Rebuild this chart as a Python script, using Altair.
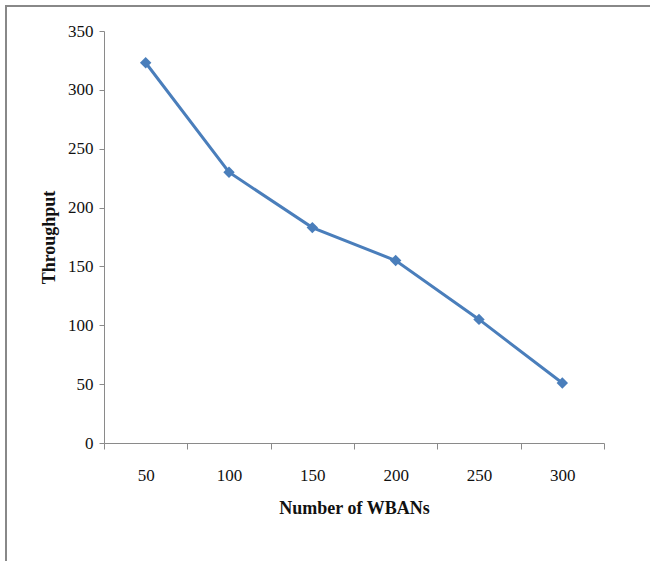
import altair as alt
import pandas as pd

wbans = [50, 100, 150, 200, 250, 300]
throughput = [323, 230, 183, 155, 105, 51]

df = pd.DataFrame({"n": wbans, "t": throughput})

FONT = "Times New Roman"
BLUE = "#4a7ebb"
GRAY = "#8a8a8a"

x_enc = alt.X(
    "n:O",
    bandPosition=0.5,
    scale=alt.Scale(type="band", paddingInner=0, paddingOuter=0),
    sort=wbans,
    axis=alt.Axis(
        title="Number of WBANs",
        labelAngle=0,
        tickBand="extent",
        tickSize=6,
        labelPadding=18,
        titlePadding=16,
        labelFont=FONT,
        labelFontSize=17,
        labelColor="#111",
        titleFont=FONT,
        titleFontSize=18,
        titleFontWeight="bold",
        titleColor="#111",
        domainColor=GRAY,
        tickColor=GRAY,
    ),
)
y_enc = alt.Y(
    "t:Q",
    scale=alt.Scale(domain=[0, 350], nice=False),
    axis=alt.Axis(
        title="Throughput",
        values=[0, 50, 100, 150, 200, 250, 300, 350],
        tickSize=5,
        labelPadding=6,
        titlePadding=9,
        grid=False,
        labelFont=FONT,
        labelFontSize=17,
        labelColor="#111",
        titleFont=FONT,
        titleFontSize=18,
        titleFontWeight="bold",
        titleColor="#111",
        domainColor=GRAY,
        tickColor=GRAY,
    ),
)

line = (
    alt.Chart(df)
    .mark_line(
        color=BLUE,
        strokeWidth=3,
        point=alt.OverlayMarkDef(shape="diamond", filled=True, color=BLUE, size=130, opacity=1),
    )
    .encode(x=x_enc, y=y_enc)
)

border_df = pd.DataFrame({"k": [0]})
top_border = alt.Chart(border_df).mark_rule(color="#888", strokeWidth=2).encode(
    x=alt.value(-99), x2=alt.value(560), y=alt.value(-25)
)
left_border = alt.Chart(border_df).mark_rule(color="#888", strokeWidth=2).encode(
    x=alt.value(-98), y=alt.value(-25), y2=alt.value(540)
)

chart = (
    alt.layer(line, top_border, left_border)
    .properties(
        width=500,
        height=412,
        autosize=alt.AutoSizeParams(type="none"),
        padding={"left": 104, "top": 31, "right": 46, "bottom": 118},
        background="white",
        view=alt.ViewBackground(strokeWidth=0),
    )
)

chart.save("out.html", embed_options={"renderer": "svg", "actions": False})
